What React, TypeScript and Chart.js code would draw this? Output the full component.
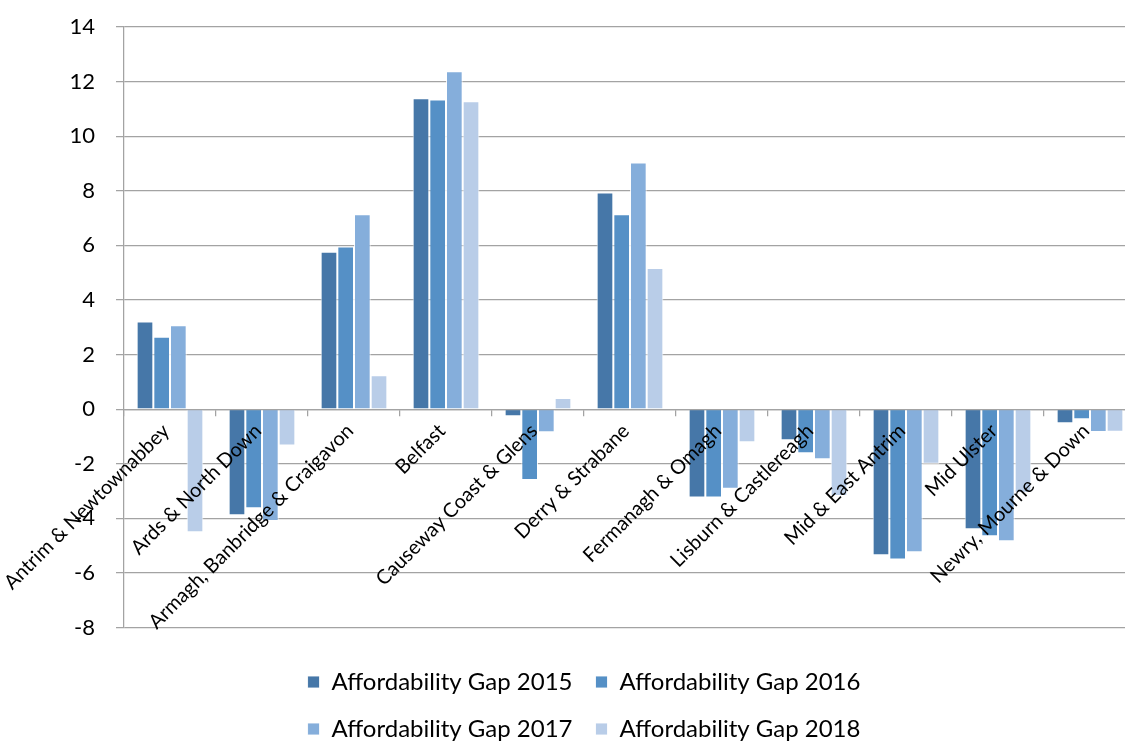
import React, { useEffect, useRef } from "react";
import { Chart, registerables } from "chart.js";

Chart.register(...registerables);

const categories = [
  "Antrim & Newtownabbey",
  "Ards & North Down",
  "Armagh, Banbridge & Craigavon",
  "Belfast",
  "Causeway Coast & Glens",
  "Derry & Strabane",
  "Fermanagh & Omagh",
  "Lisburn & Castlereagh",
  "Mid & East Antrim",
  "Mid Ulster",
  "Newry, Mourne & Down",
];

const gap2015 = [3.21, -3.89, 5.77, 11.39, -0.26, 7.94, -3.24, -1.14, -5.35, -4.4, -0.52];
const gap2016 = [2.65, -3.63, 5.96, 11.34, -2.6, 7.14, -3.24, -1.62, -5.51, -4.66, -0.37];
const gap2017 = [3.07, -4.1, 7.14, 12.38, -0.85, 9.04, -2.92, -1.84, -5.24, -4.84, -0.84];
const gap2018 = [-4.51, -1.33, 1.24, 11.28, 0.41, 5.17, -1.21, -3.18, -2.0, -3.06, -0.83];

const seriesLabels = [
  "Affordability Gap 2015",
  "Affordability Gap 2016",
  "Affordability Gap 2017",
  "Affordability Gap 2018",
];
const seriesValues = [gap2015, gap2016, gap2017, gap2018];
const seriesColors = ["#4677a8", "#5590c6", "#85aedb", "#b9cde8"];

const yMin = -8;
const yMax = 14;
const yStep = 2;

const FONT = "Lato, 'Open Sans', sans-serif";
const GRID = "#a3a3a3";
const CANVAS_W = 1136;
const CANVAS_H = 751;
const LEGEND_WRAP = 700;
const LEGEND_CX = 584;

const legendWrapPlugin = {
  id: "legendWrap",
  beforeLayout(chart: any) {
    const lg: any = chart.legend;
    if (!lg || lg.__wrapped) return;
    lg.__wrapped = true;
    const origFit = lg.fit.bind(lg);
    lg.fit = function () {
      const mw = this.maxWidth;
      this.maxWidth = LEGEND_WRAP;
      origFit();
      this.maxWidth = mw;
    };
    const origDraw = lg.draw.bind(lg);
    lg.draw = function (...args: any[]) {
      const l = this.left;
      const r = this.right;
      this.left = LEGEND_CX - LEGEND_WRAP / 2;
      this.right = LEGEND_CX + LEGEND_WRAP / 2;
      origDraw(...args);
      this.left = l;
      this.right = r;
    };
  },
};

export default function App() {
  const canvasRef = useRef<HTMLCanvasElement | null>(null);

  useEffect(() => {
    if (!canvasRef.current) return;
    const chart = new Chart(canvasRef.current, {
      type: "bar",
      data: {
        labels: categories,
        datasets: seriesLabels.map((label, i) => ({
          label,
          data: seriesValues[i],
          backgroundColor: seriesColors[i],
          borderColor: "rgba(255,255,255,0.85)",
          borderWidth: 1,
          barPercentage: 1,
          categoryPercentage: 0.725,
        })),
      },
      options: {
        responsive: false,
        animation: false,
        devicePixelRatio: 1,
        layout: { padding: { left: 0, right: 0, top: 27, bottom: 0 } },
        plugins: {
          tooltip: { enabled: false },
          legend: {
            position: "bottom",
            title: { display: true, text: "", font: { size: 1 }, padding: { top: 0, bottom: 18.3 } },
            labels: {
              font: { family: FONT, size: 24 },
              color: "#000",
              boxWidth: 12,
              boxHeight: 12,
              padding: 23,
            },
          },
        },
        scales: {
          x: {
            position: { y: 0 } as any,
            grid: {
              drawOnChartArea: false,
              drawTicks: true,
              tickLength: 6,
              color: GRID,
              lineWidth: 1.25,
              offset: true,
              z: 1,
            },
            border: { display: true, color: GRID, width: 1.25, z: 1 },
            ticks: {
              autoSkip: false,
              minRotation: 45,
              maxRotation: 45,
              padding: 4,
              labelOffset: -4,
              color: "#000",
              font: { family: FONT, size: 20 },
              z: 2,
            },
          },
          y: {
            min: yMin,
            max: yMax,
            ticks: {
              stepSize: yStep,
              padding: 21,
              color: "#000",
              font: { family: FONT, size: 22 },
            },
            grid: { color: GRID, lineWidth: 1.25, tickLength: 8, drawTicks: true },
            border: { display: true, color: GRID, width: 1.25 },
            afterFit: (s: any) => {
              s.width = 124;
              s.paddingTop = 0;
              s.paddingBottom = 0;
            },
          },
        },
      },
      plugins: [legendWrapPlugin as any],
    });
    return () => chart.destroy();
  }, []);

  return (
    <div
      style={{
        position: "fixed",
        left: 0,
        top: 0,
        width: 1125,
        height: 742,
        overflow: "hidden",
        background: "#fff",
      }}
    >
      <canvas
        ref={canvasRef}
        width={CANVAS_W}
        height={CANVAS_H}
        style={{ display: "block", width: CANVAS_W, height: CANVAS_H }}
      />
    </div>
  );
}
